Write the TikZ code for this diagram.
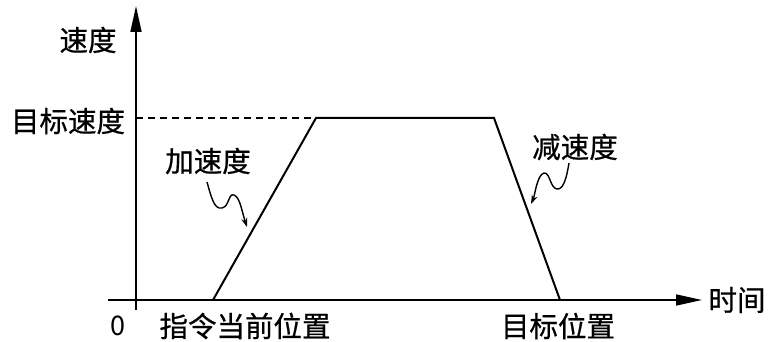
\documentclass[tikz,border=0pt]{standalone}
\usepackage{fontspec}
\setmainfont{Noto Sans CJK SC}
\newfontfamily\medcjk{Noto Sans CJK SC}[FakeBold=0.7]
\usetikzlibrary{arrows.meta}
\begin{document}
\begin{tikzpicture}[x=1pt,y=-1pt,
  lbl/.style={font=\fontsize{28.5}{30}\selectfont\medcjk, inner sep=0pt},
  axis/.style={line width=1.6pt, -{Triangle[length=26pt,width=11pt]}},
  curve/.style={line width=2pt, line join=miter},
  wavy/.style={line width=1.4pt, -{Stealth[length=9pt,width=6pt]}}]
\useasboundingbox (0,0) rectangle (768,342);
% axes
\coordinate (o) at (136,300);
\coordinate (xl) at (108,300);
\coordinate (xe) at (702,300);
\coordinate (ye) at (136,6);
\draw[axis] (xl) -- (xe);
\draw[axis] (o |- 0,310) -- (ye);
% trapezoid
\coordinate (p0) at (213,300);
\coordinate (p1) at (316,118);
\coordinate (p2) at (494,118);
\coordinate (p3) at (560,300);
\draw[line width=1.3pt, dashed, dash pattern=on 7pt off 5pt] (136,118) -- (p1);
\draw[curve] (p0) -- (p1) -- (p2) -- (p3);
% labels
\node[lbl] (v) at (88,40) {速度};
\node[lbl] (tv) at (68,121) {目标速度};
\node[lbl] (acc) at (208,161) {加速度};
\node[lbl] (dec) at (575,147) {减速度};
\node[lbl] (start) at (245,326) {指令当前位置};
\node[lbl] (goal) at (558,326) {目标位置};
\node[lbl] (t) at (737,300) {时间};
\node[font=\fontsize{27}{30}\selectfont, inner sep=0pt] (zero) at (118,326) {0};
% wavy arrows
\coordinate (a0) at (207,182);
\coordinate (a1) at (247,227);
\draw[wavy] (a0) .. controls (211,196) and (214,210) .. (222,208)
  .. controls (230,206) and (228,193) .. (234,195)
  .. controls (240,197) and (242,212) .. (a1);
\coordinate (d0) at (569,163);
\coordinate (d1) at (531,204);
\draw[wavy] (d0) .. controls (567,175) and (564,190) .. (557,189)
  .. controls (550,188) and (550,172) .. (544,173)
  .. controls (537,175) and (535,195) .. (d1);
\end{tikzpicture}
\end{document}
